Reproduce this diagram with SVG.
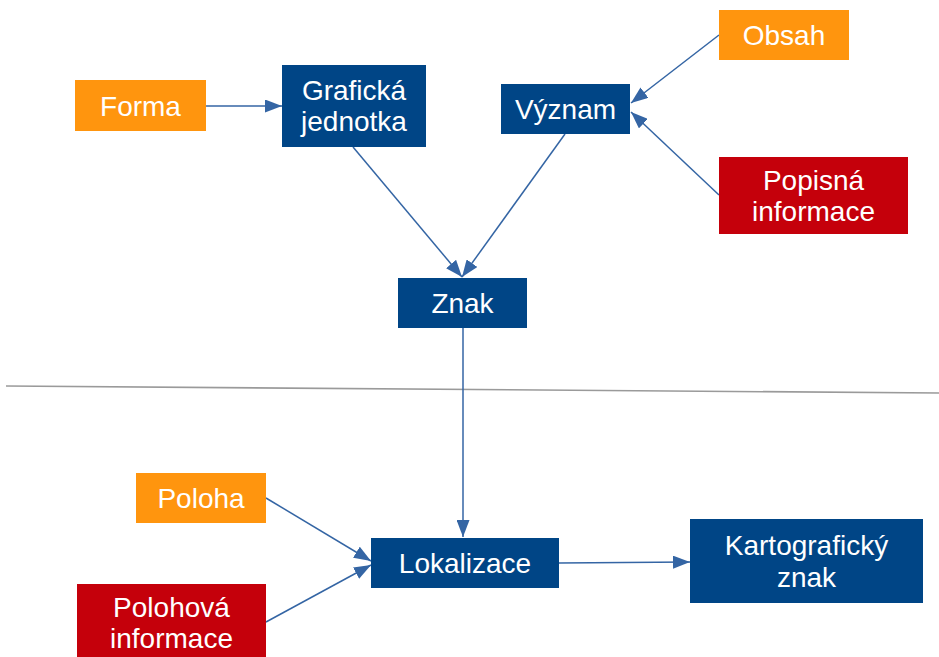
<svg xmlns="http://www.w3.org/2000/svg" width="939" height="657" viewBox="0 0 939 657">
  <defs>
    <marker id="arrow" markerUnits="userSpaceOnUse" markerWidth="17" markerHeight="13" refX="17" refY="6.5" orient="auto">
      <path d="M0,0 L17,6.5 L0,13 z" fill="#3465a4"/>
    </marker>
    <style>
      .blue { fill: #004586; }
      .orange { fill: #ff950e; }
      .red { fill: #c5000b; }
      .label { font-family: "Liberation Sans", Arial, sans-serif; font-size: 28px; fill: #ffffff; text-anchor: middle; }
      .edge { stroke: #3465a4; stroke-width: 1.5; fill: none; marker-end: url(#arrow); }
      .divider { stroke: #9a9a9a; stroke-width: 1.6; fill: none; }
    </style>
  </defs>
  <rect width="939" height="657" fill="#ffffff"/>

  <!-- separator between sign and localisation -->
  <line class="divider" x1="6" y1="386" x2="939" y2="393"/>

  <g id="connectors">
    <line class="edge" x1="206" y1="106" x2="282" y2="106"/>
    <line class="edge" x1="719" y1="35" x2="631" y2="103"/>
    <line class="edge" x1="719" y1="195" x2="631" y2="112"/>
    <line class="edge" x1="353" y1="147" x2="462" y2="277"/>
    <line class="edge" x1="565" y1="134" x2="462" y2="277"/>
    <line class="edge" x1="463" y1="328" x2="463" y2="537"/>
    <line class="edge" x1="266" y1="498" x2="371" y2="561"/>
    <line class="edge" x1="266" y1="622" x2="371" y2="565"/>
    <line class="edge" x1="559" y1="563" x2="690" y2="562"/>
  </g>

  <g id="forma">
    <rect class="orange" x="75" y="80" width="131" height="51"/>
    <text class="label" x="140.5" y="116">Forma</text>
  </g>
  <g id="graficka-jednotka">
    <rect class="blue" x="282" y="65" width="144" height="82"/>
    <text class="label" x="354" y="100">Grafická</text>
    <text class="label" x="354" y="131">jednotka</text>
  </g>
  <g id="obsah">
    <rect class="orange" x="719" y="10" width="130" height="50"/>
    <text class="label" x="784" y="45">Obsah</text>
  </g>
  <g id="vyznam">
    <rect class="blue" x="501" y="84" width="129" height="50"/>
    <text class="label" x="565.5" y="119">Význam</text>
  </g>
  <g id="popisna-informace">
    <rect class="red" x="719" y="157" width="189" height="77"/>
    <text class="label" x="813.5" y="190">Popisná</text>
    <text class="label" x="813.5" y="221">informace</text>
  </g>
  <g id="znak">
    <rect class="blue" x="398" y="278" width="129" height="50"/>
    <text class="label" x="462.5" y="313">Znak</text>
  </g>
  <g id="poloha">
    <rect class="orange" x="136" y="473" width="130" height="50"/>
    <text class="label" x="201" y="508">Poloha</text>
  </g>
  <g id="polohova-informace">
    <rect class="red" x="77" y="584" width="189" height="77"/>
    <text class="label" x="171.5" y="617">Polohová</text>
    <text class="label" x="171.5" y="648">informace</text>
  </g>
  <g id="lokalizace">
    <rect class="blue" x="371" y="538" width="188" height="50"/>
    <text class="label" x="465" y="573">Lokalizace</text>
  </g>
  <g id="kartograficky-znak">
    <rect class="blue" x="690" y="519" width="233" height="84"/>
    <text class="label" x="806.5" y="555">Kartografický</text>
    <text class="label" x="806.5" y="587">znak</text>
  </g>
</svg>
